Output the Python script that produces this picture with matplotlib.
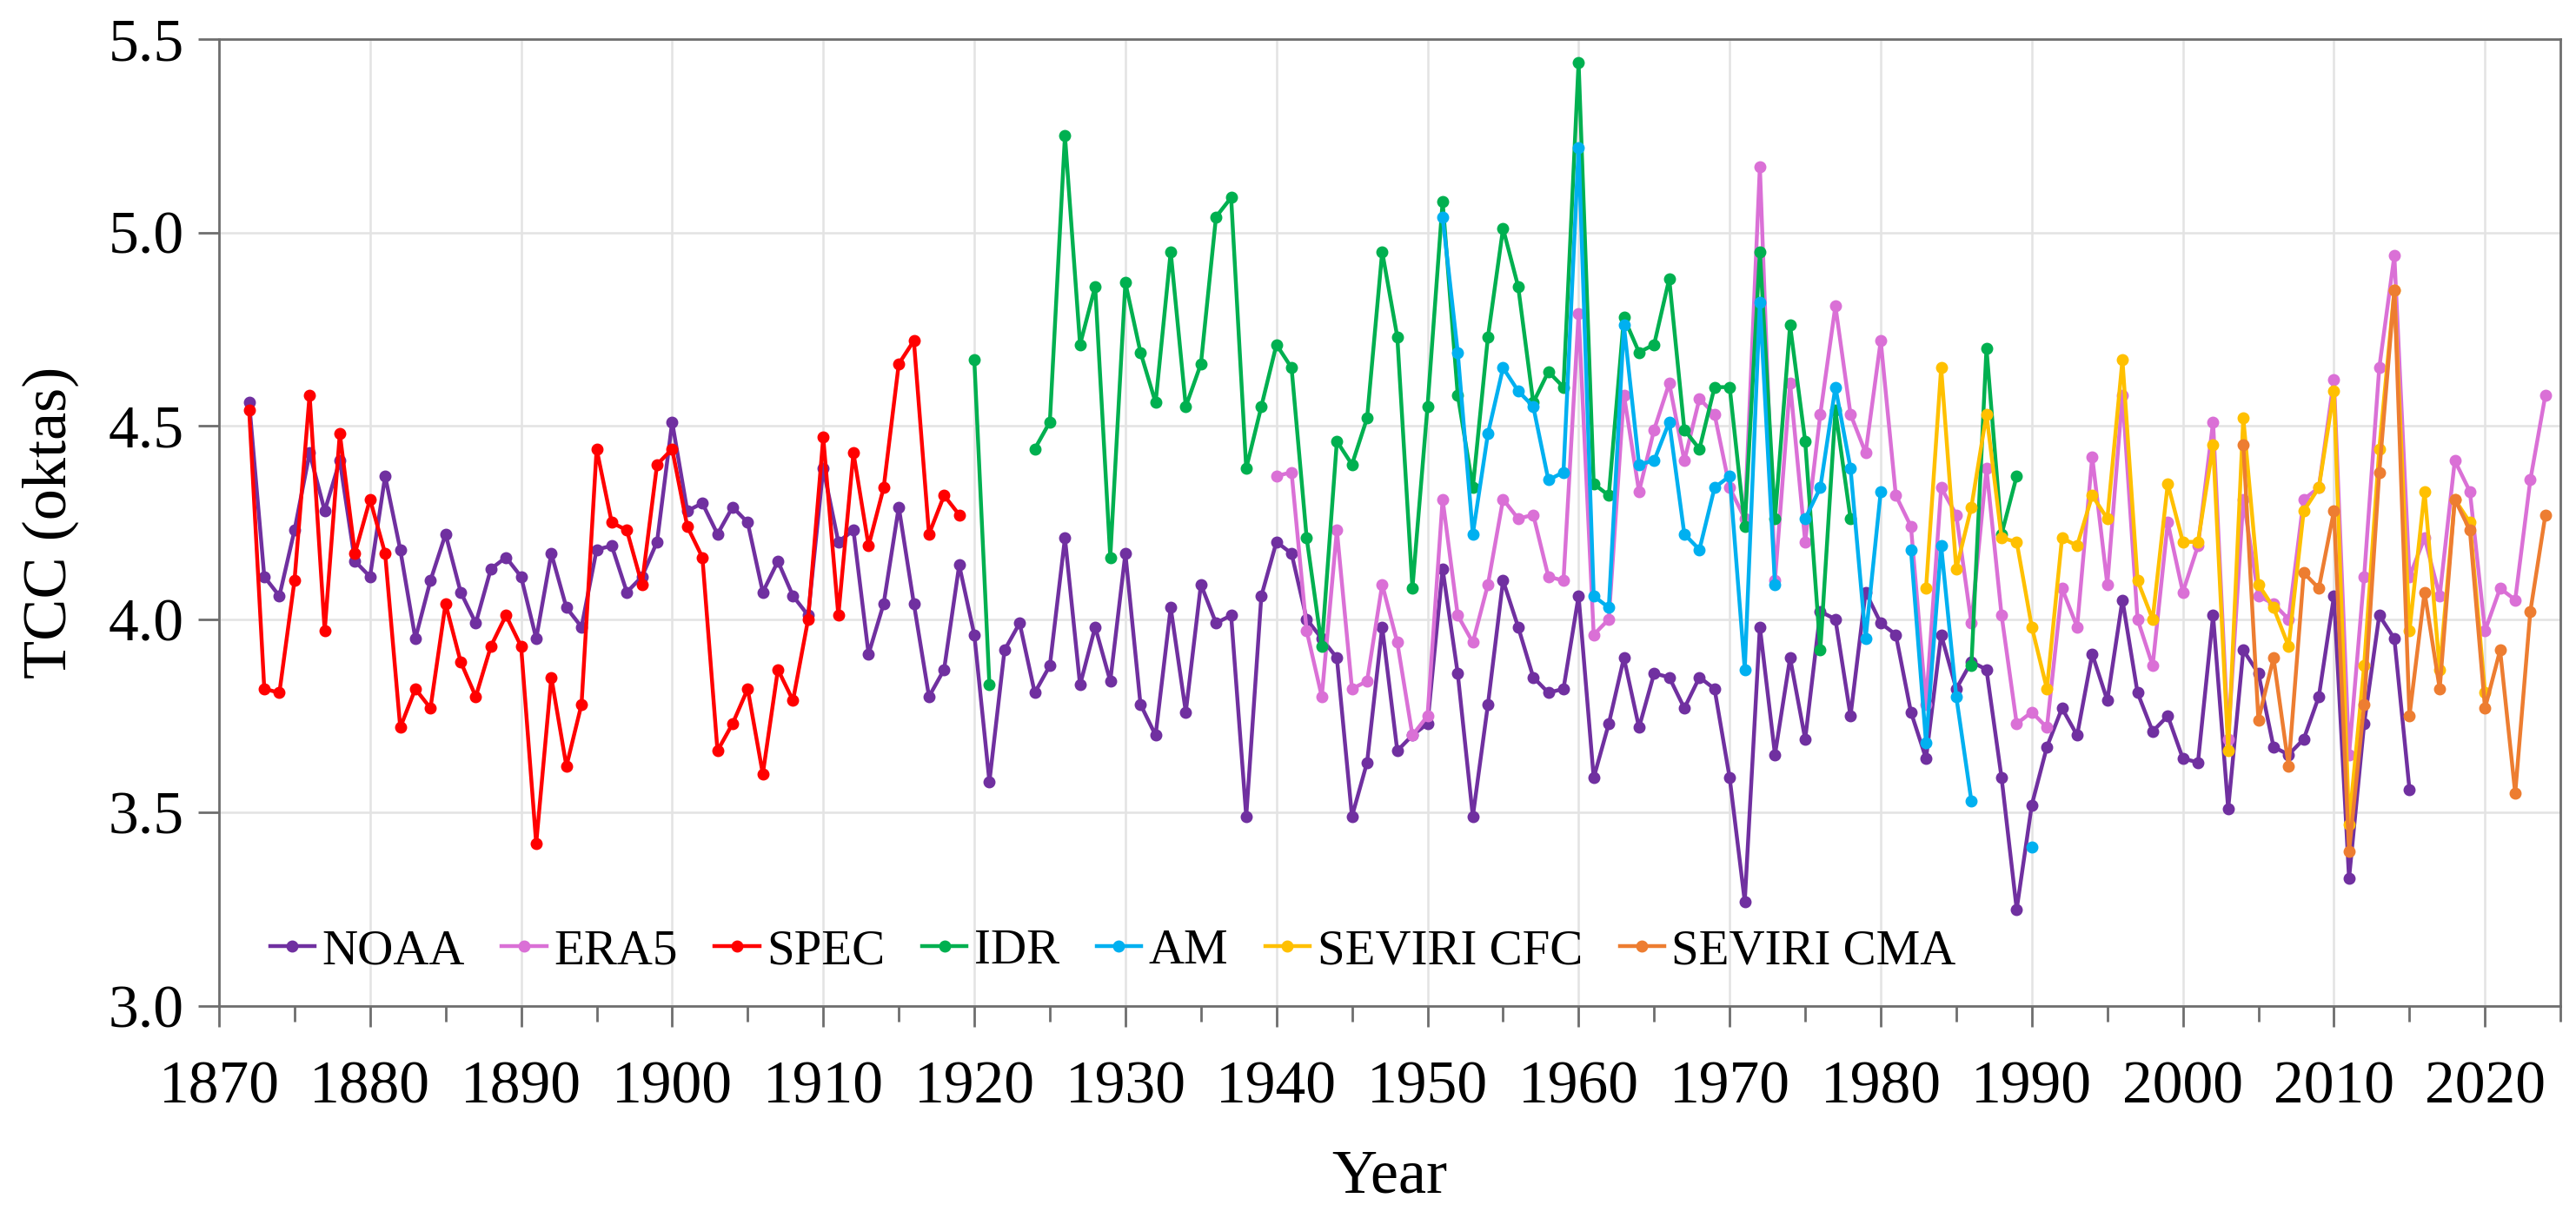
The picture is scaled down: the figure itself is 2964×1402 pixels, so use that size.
import numpy as np
import matplotlib
matplotlib.use("Agg")
import matplotlib.pyplot as plt
from matplotlib.ticker import MultipleLocator, FormatStrFormatter

nan = np.nan

# NOAA 1872-2015
noaa_years = np.arange(1872, 2016)
noaa = [4.56, 4.11, 4.06, 4.23, 4.43, 4.28, 4.41, 4.15,
        4.11, 4.37, 4.18, 3.95, 4.10, 4.22, 4.07, 3.99, 4.13, 4.16,
        4.11, 3.95, 4.17, 4.03, 3.98, 4.18, 4.19, 4.07, 4.11, 4.20,
        4.51, 4.28, 4.30, 4.22, 4.29, 4.25, 4.07, 4.15, 4.06, 4.01,
        4.39, 4.20, 4.23, 3.91, 4.04, 4.29, 4.04, 3.80, 3.87, 4.14,
        3.96, 3.58, 3.92, 3.99, 3.81, 3.88, 4.21, 3.83, 3.98, 3.84,
        4.17, 3.78, 3.70, 4.03, 3.76, 4.09, 3.99, 4.01, 3.49, 4.06,
        4.20, 4.17, 4.00, 3.95, 3.90, 3.49, 3.63, 3.98, 3.66, 3.70,
        3.73, 4.13, 3.86, 3.49, 3.78, 4.10, 3.98, 3.85, 3.81, 3.82,
        4.06, 3.59, 3.73, 3.90, 3.72, 3.86, 3.85, 3.77, 3.85, 3.82,
        3.59, 3.27, 3.98, 3.65, 3.90, 3.69, 4.02, 4.00, 3.75, 4.07,
        3.99, 3.96, 3.76, 3.64, 3.96, 3.82, 3.89, 3.87, 3.59, 3.25,
        3.52, 3.67, 3.77, 3.70, 3.91, 3.79, 4.05, 3.81, 3.71, 3.75,
        3.64, 3.63, 4.01, 3.51, 3.92, 3.86, 3.67, 3.65, 3.69, 3.80,
        4.06, 3.33, 3.73, 4.01, 3.95, 3.56]

# ERA5 1940-2024
era5_years = np.arange(1940, 2025)
era5 = [4.37, 4.38, 3.97, 3.80, 4.23, 3.82, 3.84, 4.09, 3.94, 3.70,
        3.75, 4.31, 4.01, 3.94, 4.09, 4.31, 4.26, 4.27, 4.11, 4.10,
        4.79, 3.96, 4.00, 4.58, 4.33, 4.49, 4.61, 4.41, 4.57, 4.53,
        4.34, 4.26, 5.17, 4.10, 4.61, 4.20, 4.53, 4.81, 4.53, 4.43,
        4.72, 4.32, 4.24, 3.78, 4.34, 4.27, 3.99, 4.39, 4.01, 3.73,
        3.76, 3.72, 4.08, 3.98, 4.42, 4.09, 4.58, 4.00, 3.88, 4.25,
        4.07, 4.19, 4.51, 3.69, 4.31, 4.06, 4.04, 4.00, 4.31, 4.34,
        4.62, 3.65, 4.11, 4.65, 4.94, 4.11, 4.21, 4.06, 4.41, 4.33,
        3.97, 4.08, 4.05, 4.36, 4.58]

# SPEC 1872-1919
spec_years = np.arange(1872, 1920)
spec = [4.54, 3.82, 3.81, 4.10, 4.58, 3.97, 4.48, 4.17,
        4.31, 4.17, 3.72, 3.82, 3.77, 4.04, 3.89, 3.80, 3.93, 4.01,
        3.93, 3.42, 3.85, 3.62, 3.78, 4.44, 4.25, 4.23, 4.09, 4.40,
        4.44, 4.24, 4.16, 3.66, 3.73, 3.82, 3.60, 3.87, 3.79, 4.00,
        4.47, 4.01, 4.43, 4.19, 4.34, 4.66, 4.72, 4.22, 4.32, 4.27]

# IDR 1920-1989 (gaps as nan)
idr_years = np.arange(1920, 1990)
idr = [4.67, 3.83, nan, nan, 4.44, 4.51, 5.25, 4.71, 4.86, 4.16,
       4.87, 4.69, 4.56, 4.95, 4.55, 4.66, 5.04, 5.09, 4.39, 4.55,
       4.71, 4.65, 4.21, 3.93, 4.46, 4.40, 4.52, 4.95, 4.73, 4.08,
       4.55, 5.08, 4.58, 4.34, 4.73, 5.01, 4.86, 4.56, 4.64, 4.60,
       5.44, 4.35, 4.32, 4.78, 4.69, 4.71, 4.88, 4.49, 4.44, 4.60,
       4.60, 4.24, 4.95, 4.26, 4.76, 4.46, 3.92, 4.54, 4.26, nan,
       nan, nan, nan, nan, nan, nan, 3.88, 4.70, 4.22, 4.37]

# AM 1951-1990
am_years = np.arange(1951, 1991)
am = [5.04, 4.69, 4.22, 4.48, 4.65, 4.59, 4.55, 4.36, 4.38,
      5.22, 4.06, 4.03, 4.76, 4.40, 4.41, 4.51, 4.22, 4.18, 4.34,
      4.37, 3.87, 4.82, 4.09, nan, 4.26, 4.34, 4.60, 4.39, 3.95,
      4.33, nan, 4.18, 3.68, 4.19, 3.80, 3.53, nan, nan, nan,
      3.41]

# SEVIRI CFC 1983-2020
cfc_years = np.arange(1983, 2021)
cfc = [4.08, 4.65, 4.13, 4.29, 4.53, 4.21, 4.20,
       3.98, 3.82, 4.21, 4.19, 4.32, 4.26, 4.67, 4.10, 4.00, 4.35,
       4.20, 4.20, 4.45, 3.66, 4.52, 4.09, 4.03, 3.93, 4.28, 4.34,
       4.59, 3.47, 3.88, 4.44, 4.85, 3.97, 4.33, 3.87, 4.31, 4.25,
       3.81]

# SEVIRI CMA 2004-2024
cma_years = np.arange(2004, 2025)
cma = [4.45, 3.74, 3.90, 3.62, 4.12, 4.08,
       4.28, 3.40, 3.78, 4.38, 4.85, 3.75, 4.07, 3.82, 4.31, 4.23,
       3.77, 3.92, 3.55, 4.02, 4.27]

series = [
    ("NOAA", noaa_years, noaa, "#7030A0"),
    ("ERA5", era5_years, era5, "#DA70D6"),
    ("SPEC", spec_years, spec, "#FF0000"),
    ("IDR", idr_years, idr, "#00B050"),
    ("AM", am_years, am, "#00B0F0"),
    ("SEVIRI CFC", cfc_years, cfc, "#FFC000"),
    ("SEVIRI CMA", cma_years, cma, "#ED7D31"),
]

plt.rcParams['font.family'] = ['Liberation Serif', 'DejaVu Serif']

fig = plt.figure(figsize=(14.82, 7.01), dpi=200)
ax = fig.add_axes([0.085, 0.174, 0.909, 0.794])

for name, yrs, vals, col in series:
    ax.plot(yrs, vals, color=col, lw=1.6, marker='o', ms=4.0, label=name)

ax.set_xlim(1870, 2025)
ax.set_ylim(3.0, 5.5)
ax.xaxis.set_major_locator(MultipleLocator(10))
ax.xaxis.set_minor_locator(MultipleLocator(5))
ax.yaxis.set_major_locator(MultipleLocator(0.5))
ax.yaxis.set_major_formatter(FormatStrFormatter('%.1f'))

ax.grid(True, which='major', color='#e3e3e3', lw=0.9)
ax.set_axisbelow(True)
for sp in ax.spines.values():
    sp.set_color('#6e6e6e')
    sp.set_linewidth(1.0)

ax.tick_params(axis='both', which='major', direction='out', length=8.5,
               width=1.0, color='#6e6e6e', labelsize=25, pad=6)
ax.tick_params(axis='x', which='minor', direction='out', length=6.5,
               width=1.0, color='#6e6e6e')
ax.tick_params(axis='x', which='major', pad=14)

ax.set_xlabel('Year', fontsize=26, labelpad=14)
ax.set_ylabel('TCC (oktas)', fontsize=26, labelpad=12)

ax.legend(loc='lower left', bbox_to_anchor=(0.008, 0.0), ncol=7,
          frameon=False, fontsize=20.5, handlelength=0.9, handletextpad=0.15,
          columnspacing=0.75, borderaxespad=0.25)

fig.savefig('out.png', dpi=200)
